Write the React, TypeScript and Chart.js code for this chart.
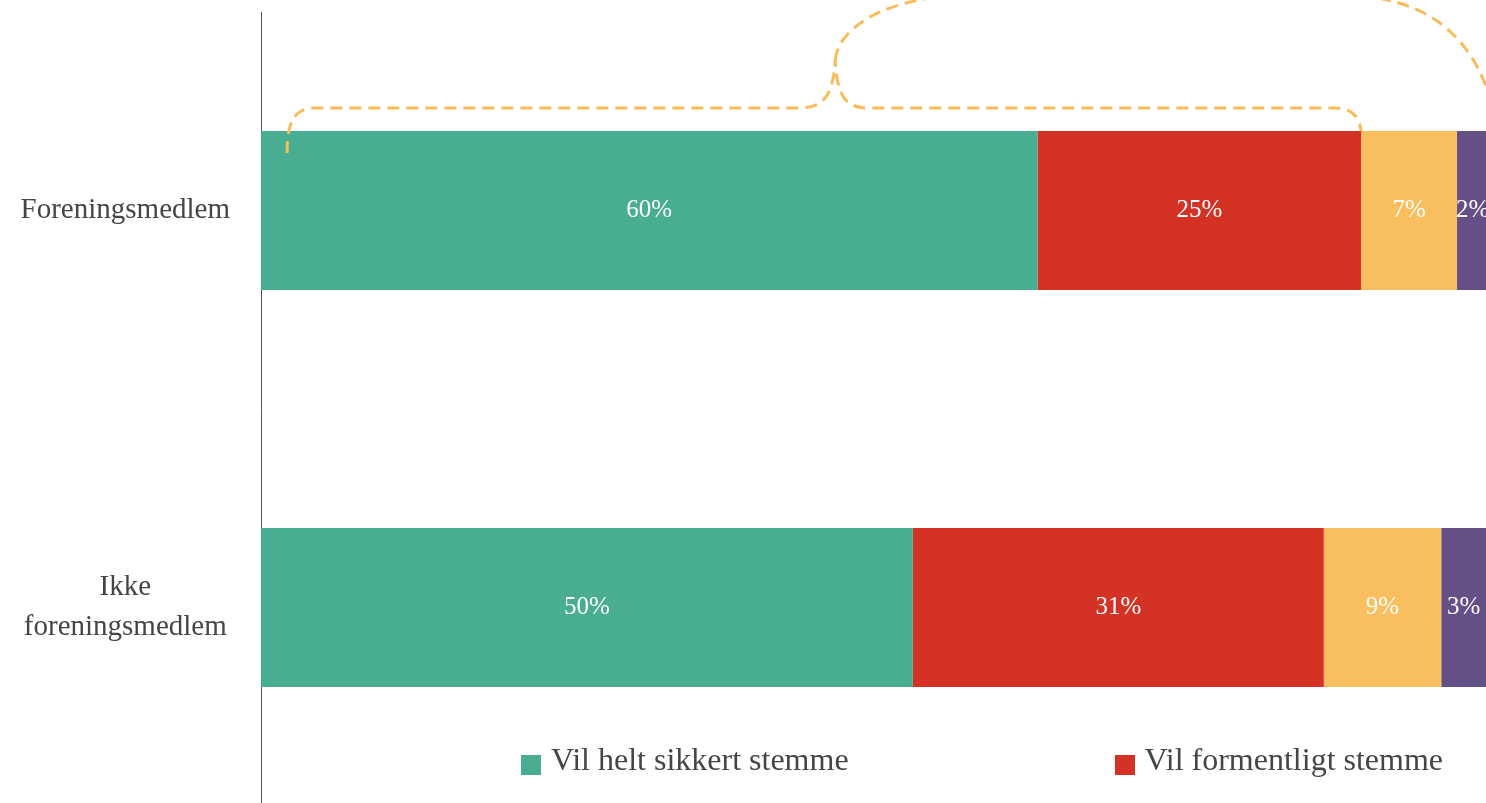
import React, { useEffect, useRef } from 'react';
import { Chart, registerables } from 'chart.js';

Chart.register(...registerables);

// ---- data ----
const categories: (string | string[])[] = ['Foreningsmedlem', ['Ikke', 'foreningsmedlem']];
const seriesNames = [
  'Vil helt sikkert stemme',
  'Vil formentligt stemme',
  'Vil formentlig ikke stemme',
  'Vil helt sikkert ikke stemme',
];
const seriesColors = ['#49AE91', '#D33224', '#F9BE5E', '#644F86'];
const heltSikkert = [59.5, 49.95];
const formentligt = [24.8, 31.49];
const formentligIkke = [7.35, 9.0];
const heltSikkertIkke = [2.4, 3.45];
const seriesValues = [heltSikkert, formentligt, formentligIkke, heltSikkertIkke];
const axisMin = 0;
const axisMax = 100;
// annotation brace over the first bar (values on the x axis)
const braceStart = 2;
const braceTip = 44;
const braceEnd = heltSikkert[0] + formentligt[0];

const FONT = "'Liberation Serif', 'Times New Roman', serif";
const TEXT = '#454545';
const BRACE = '#F8BC5B';

const valueLabelPlugin = {
  id: 'valueLabels',
  afterDatasetsDraw(chart: any) {
    const ctx = chart.ctx;
    ctx.save();
    ctx.font = `25px ${FONT}`;
    ctx.fillStyle = '#ffffff';
    ctx.textAlign = 'center';
    ctx.textBaseline = 'middle';
    chart.data.datasets.forEach((ds: any, i: number) => {
      chart.getDatasetMeta(i).data.forEach((el: any, j: number) => {
        const p = el.getCenterPoint();
        ctx.fillText(Math.round(ds.data[j]) + '%', p.x, p.y);
      });
    });
    ctx.restore();
  },
};

const bracePlugin = {
  id: 'brace',
  afterDatasetsDraw(chart: any) {
    const ctx = chart.ctx;
    const xs = chart.scales.x;
    const bar = chart.getDatasetMeta(0).data[0];
    const top = bar.y - bar.height / 2;
    const x0 = xs.getPixelForValue(braceStart);
    const xt = xs.getPixelForValue(braceTip);
    const x1 = xs.getPixelForValue(braceEnd);
    const hy = top - 23;
    const ty = top - 71;
    const ay = top - 136;
    ctx.save();
    ctx.strokeStyle = BRACE;
    ctx.lineWidth = 3;
    ctx.setLineDash([12, 7]);
    ctx.beginPath();
    ctx.moveTo(x0, top + 22);
    ctx.bezierCurveTo(x0, top - 6, x0 + 5, hy, x0 + 28, hy);
    ctx.lineTo(xt - 36, hy);
    ctx.bezierCurveTo(xt - 11, hy, xt - 2, hy - 13, xt, ty);
    ctx.bezierCurveTo(xt + 2, ty + 35, xt + 9, hy, xt + 34, hy);
    ctx.lineTo(x1 - 27, hy);
    ctx.bezierCurveTo(x1 - 10, hy, x1 - 2, hy + 7, x1, top);
    ctx.stroke();
    ctx.beginPath();
    ctx.moveTo(xt, ty);
    ctx.bezierCurveTo(xt + 2, ty - 25, xt + 35, ay + 5, xt + 125, ay);
    ctx.lineTo(x1 - 21, ay);
    ctx.bezierCurveTo(x1 + 69, ay, x1 + 119, ay + 45, x1 + 134, ay + 125);
    ctx.bezierCurveTo(x1 + 140, ay + 160, x1 + 140, ay + 200, x1 + 138, top);
    ctx.stroke();
    ctx.restore();
  },
};

export default function App() {
  const ref = useRef<HTMLCanvasElement>(null);

  useEffect(() => {
    if (!ref.current) return;
    const chart = new Chart(ref.current, {
      type: 'bar',
      data: {
        labels: categories as any,
        datasets: seriesNames.map((name, i) => ({
          label: name,
          data: seriesValues[i],
          backgroundColor: seriesColors[i],
          borderWidth: 0,
          barPercentage: 0.5,
          categoryPercentage: 0.8,
        })),
      },
      options: {
        indexAxis: 'y',
        responsive: true,
        maintainAspectRatio: false,
        animation: false,
        layout: { padding: { top: 12, left: 0, right: 0, bottom: 0 } },
        plugins: {
          legend: { display: false },
          tooltip: { enabled: false },
        },
        scales: {
          x: { stacked: true, min: axisMin, max: axisMax, display: false },
          y: {
            stacked: true,
            grid: { display: false, drawTicks: false },
            border: { display: true, color: '#555555', width: 1 },
            ticks: {
              crossAlign: 'center',
              padding: 31,
              color: TEXT,
              font: { family: FONT, size: 29, lineHeight: 1.4 },
            },
            afterFit: (scale: any) => {
              scale.width = 261;
              scale.paddingTop = 0;
              scale.paddingBottom = 0;
            },
          },
        },
      } as any,
      plugins: [valueLabelPlugin, bracePlugin],
    });
    return () => chart.destroy();
  }, []);

  return (
    <div
      style={{
        position: 'fixed',
        left: 0,
        top: 0,
        width: '100vw',
        height: '100vh',
        overflow: 'hidden',
        background: '#ffffff',
      }}
    >
      <div style={{ position: 'absolute', left: 0, top: 0, width: 1566, height: 806 }}>
        <canvas ref={ref} />
      </div>
      <div
        style={{
          position: 'absolute',
          left: 521,
          top: 743,
          display: 'flex',
          fontFamily: FONT,
          fontSize: 32,
          lineHeight: '32px',
          color: TEXT,
          whiteSpace: 'nowrap',
        }}
      >
        {seriesNames.map((n, i) => (
          <div key={i} style={{ display: 'flex', alignItems: 'flex-start', marginRight: 266 }}>
            <span
              style={{
                display: 'inline-block',
                width: 20,
                height: 20,
                background: seriesColors[i],
                marginTop: 11.5,
                marginRight: 10,
              }}
            />
            <span>{n}</span>
          </div>
        ))}
      </div>
    </div>
  );
}
